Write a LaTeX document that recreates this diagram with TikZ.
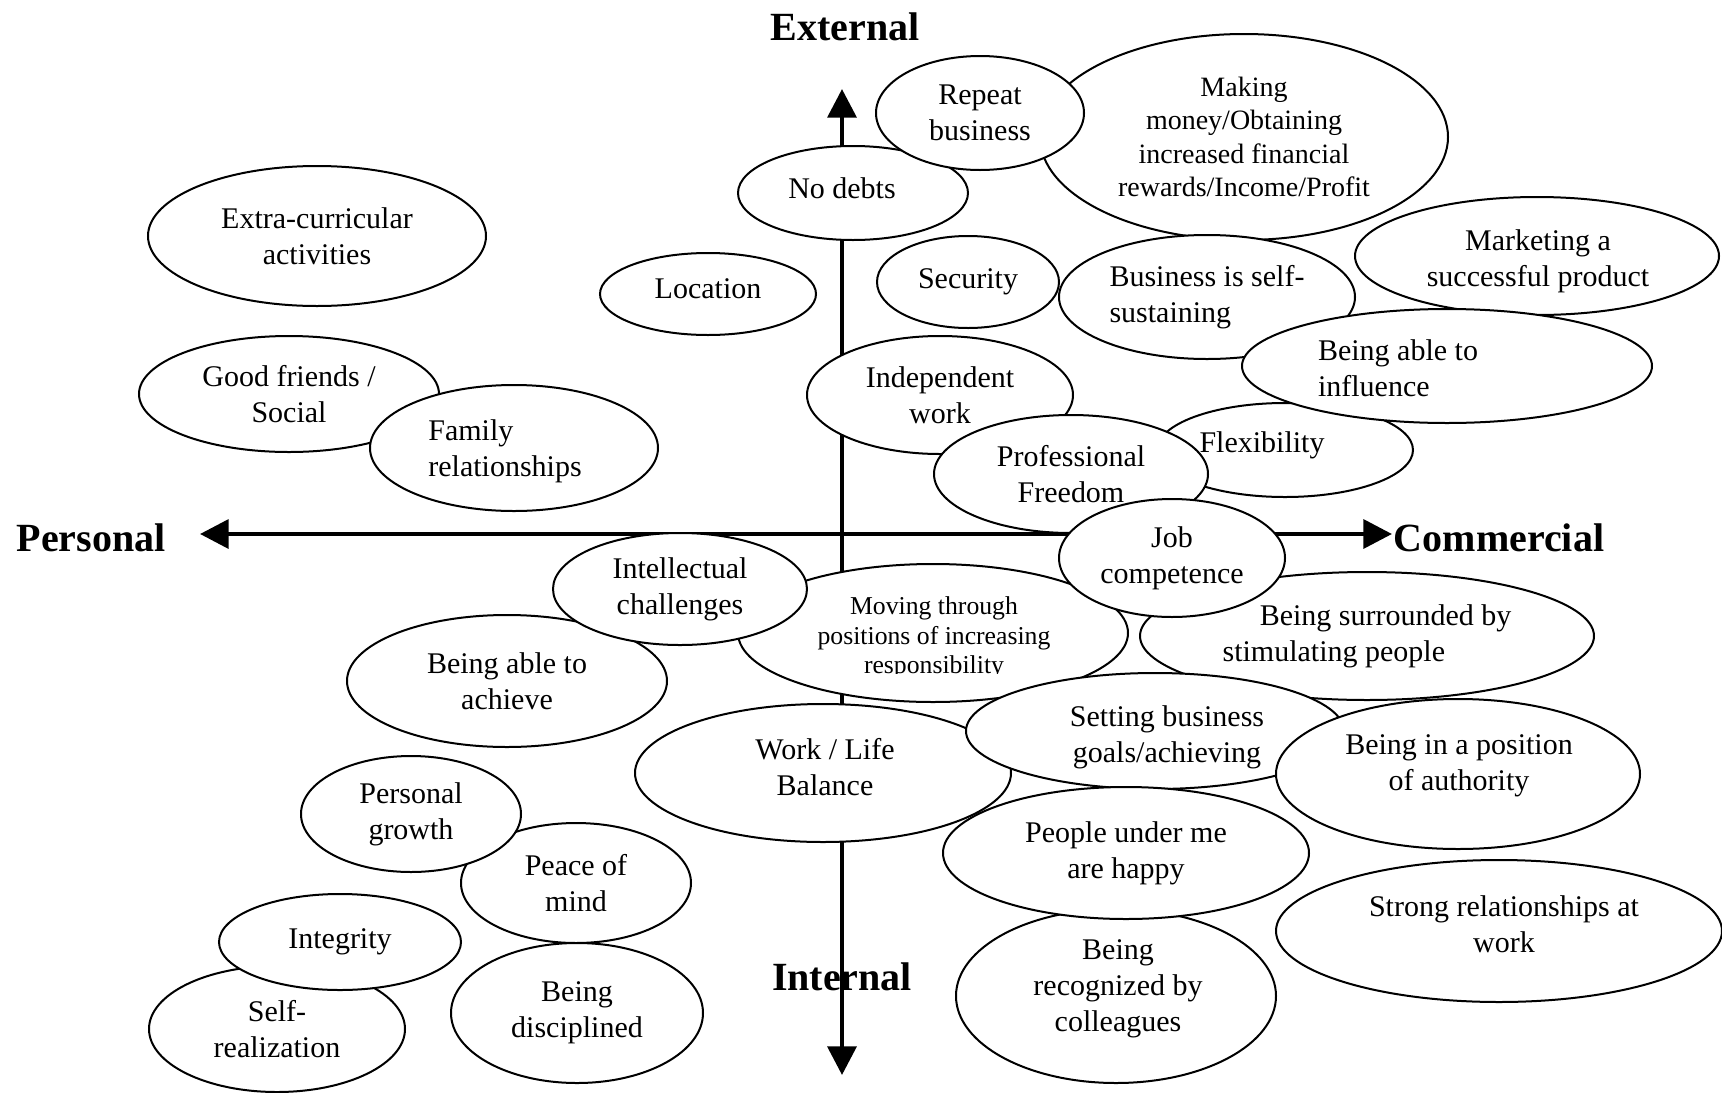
\documentclass[tikz,border=0pt]{standalone}
\usepackage{fontspec}
\setmainfont{Liberation Serif}
\usetikzlibrary{shapes.geometric,arrows.meta}

\begin{document}
\begin{tikzpicture}
  [x=.35pt,y=-.35pt,
   bub/.style={ellipse,draw,fill=white,line width=.7pt,inner sep=0pt,align=center,font=\fontsize{10.5}{12.7}\selectfont},
   wh/.style 2 args={minimum width=#1*.35pt,minimum height=#2*.35pt},
   txt/.style={inner sep=0pt,align=center,font=\fontsize{10.5}{12.7}\selectfont},
   axis/.style={line width=1.6pt,-{Triangle[length=10pt,width=10pt]}},
   lab/.style={font=\fontsize{14}{16}\selectfont\bfseries}]
  \fill[white] (0,0) rectangle (1722,1092);
  \useasboundingbox (0,0) rectangle (1722,1092);
  \coordinate (no) at (842,534);
  \coordinate (nup) at (842,89);
  \coordinate (ndown) at (842,1075);
  \coordinate (nleft) at (200,534);
  \coordinate (nright) at (1392,534);
    \foreach \to in {nup,ndown,nleft,nright}
    \draw[axis] (no) -- (\to);
  \node[lab] (nexternal) at (845,27) {External};
  \node[lab] (ninternal) at (842,977) {Internal};
  \node[lab] (npersonal) at (91,538) {Personal};
  \node[lab] (ncommercial) at (1499,538) {Commercial};
  \node[bub,wh={338}{140}] (nextra) at (317,236) {Extra-curricular\\activities};
  \node[bub,wh={216}{82}] (nloc) at (708,294) {};
  \node[txt] (nloct) at (708,289) {Location};
  \node[bub,wh={300}{116}] (nfriends) at (289,394) {Good friends /\\Social};
  \node[bub,wh={288}{126}] (nfamily) at (514,448) {};
  \node[txt,align=left] (nfamilyt) at (505,451) {Family\\relationships};
  \node[bub,wh={408}{206},font=\fontsize{9.8}{11.7}\selectfont] (nmoney) at (1244,137) {Making\\money/Obtaining\\increased financial\\rewards/Income/Profit};
  \node[bub,wh={230}{94}] (ndebts) at (853,193) {};
  \node[txt] (ndebtst) at (842,188) {No debts};
  \node[bub,wh={208}{114}] (nrepeat) at (980,113) {Repeat\\business};
  \node[bub,wh={182}{92}] (nsecurity) at (968,282) {Security};
  \node[bub,wh={364}{118}] (nmarket) at (1537,256) {};
  \node[txt] (nmarkett) at (1538,261) {Marketing a\\successful product};
  \node[bub,wh={296}{124},align=left] (nsustain) at (1207,297) {Business is self-\\sustaining};
  \node[bub,wh={256}{94}] (nflex) at (1285,450) {};
  \node[txt] (nflext) at (1262,445) {Flexibility};
  \node[bub,wh={410}{114}] (ninfl) at (1447,366) {};
  \node[txt,align=left] (ninflt) at (1398,368) {Being able to\\influence};
  \node[bub,wh={266}{118}] (nindep) at (940,395) {Independent\\work};
  \node[bub,wh={274}{118}] (nfreedom) at (1071,474) {Professional\\Freedom};
  \node[bub,wh={390}{138}] (nmoving) at (933,633) {};
  \begin{scope}
    \clip (738,560) rectangle (1128,673);
    \node[txt,font=\fontsize{9}{10.4}\selectfont] (nmovingt) at (934,638) {Moving through\\positions of increasing\\responsibility};
  \end{scope}
  \node[bub,wh={454}{128},align=left] (nsurround) at (1367,636) {\hspace*{13pt}Being surrounded by\\stimulating people};
  \node[bub,wh={226}{118}] (njob) at (1172,558) {Job\\competence};
  \node[bub,wh={320}{132}] (nachieve) at (507,681) {Being able to\\achieve};
  \node[bub,wh={254}{112}] (nintell) at (680,589) {Intellectual\\challenges};
  \node[bub,wh={376}{138}] (nworklife) at (823,773) {};
  \node[txt] (nworklifet) at (825,767) {Work / Life\\Balance};
  \node[bub,wh={378}{116}] (nsetting) at (1155,731) {};
  \node[txt] (nsettingt) at (1167,737) {Setting business\\goals/achieving};
  \node[bub,wh={364}{150}] (nauth) at (1458,774) {};
  \node[txt] (nautht) at (1459,766) {Being in a position\\of authority};
  \node[bub,wh={320}{174}] (nrecog) at (1116,996) {};
  \node[txt] (nrecogt) at (1118,989) {Being\\recognized by\\colleagues};
  \node[bub,wh={366}{132}] (npeople) at (1126,853) {People under me\\are happy};
  \node[bub,wh={446}{142}] (nstrong) at (1499,931) {};
  \node[txt] (nstrongt) at (1504,924) {Strong relationships at\\work};
  \node[bub,wh={230}{120}] (npeace) at (576,883) {Peace of\\mind};
  \node[bub,wh={220}{116}] (ngrowth) at (411,814) {Personal\\growth};
  \node[bub,wh={256}{126}] (nselfreal) at (277,1029) {Self-\\realization};
  \node[bub,wh={242}{96}] (nintegr) at (340,942) {Integrity};
  \node[bub,wh={252}{140}] (ndisc) at (577,1013) {Being\\disciplined};
\end{tikzpicture}
\end{document}
